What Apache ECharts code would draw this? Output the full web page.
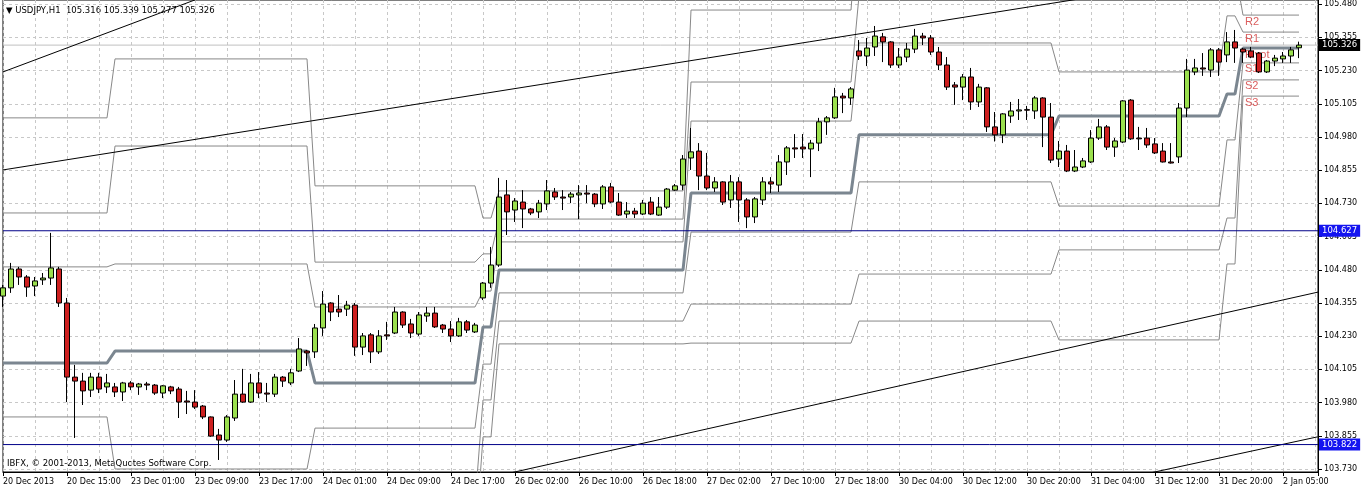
<!DOCTYPE html>
<html><head><meta charset="utf-8">
<script src="https://cdn.jsdelivr.net/npm/echarts@6/dist/echarts.min.js"></script>
<style>html,body{margin:0;padding:0;background:#fff}#c{width:1362px;height:490px}</style>
</head><body><div id="c"></div>
<script>
const timeLabels = ['20 Dec 2013','20 Dec 15:00','23 Dec 01:00','23 Dec 09:00','23 Dec 17:00','24 Dec 01:00','24 Dec 09:00','24 Dec 17:00','26 Dec 02:00','26 Dec 10:00','26 Dec 18:00','27 Dec 02:00','27 Dec 10:00','27 Dec 18:00','30 Dec 04:00','30 Dec 12:00','30 Dec 20:00','31 Dec 04:00','31 Dec 12:00','31 Dec 20:00','2 Jan 05:00'];
const priceTicks = [103.730,103.855,103.980,104.105,104.230,104.355,104.480,104.605,104.730,104.855,104.980,105.105,105.230,105.355,105.480];
// [open, close, low, high]
const candles = [
[104.381,104.412,104.340,104.423],[104.412,104.483,104.393,104.506],[104.483,104.453,104.423,104.491],[104.453,104.415,104.378,104.460],
[104.419,104.438,104.381,104.453],[104.442,104.449,104.423,104.468],[104.449,104.487,104.423,104.619],[104.483,104.355,104.340,104.491],
[104.355,104.076,103.982,104.374],[104.076,104.061,103.847,104.122],[104.061,104.024,103.971,104.092],[104.027,104.076,104.001,104.092],
[104.076,104.031,104.016,104.092],[104.039,104.054,104.016,104.088],[104.039,104.020,104.001,104.054],[104.020,104.054,103.986,104.058],
[104.054,104.039,104.027,104.061],[104.039,104.050,104.009,104.054],[104.050,104.046,104.027,104.058],[104.046,104.016,104.009,104.050],
[104.016,104.043,103.997,104.046],[104.039,104.024,104.012,104.043],[104.031,103.982,103.922,104.039],[103.986,103.982,103.937,104.024],
[103.982,103.963,103.956,104.027],[103.967,103.926,103.918,103.971],[103.926,103.854,103.851,103.928],[103.858,103.839,103.764,103.881],
[103.839,103.926,103.832,103.933],[103.922,104.012,103.911,104.065],[104.012,103.982,103.979,104.107],[103.982,104.054,103.979,104.088],
[104.054,104.016,103.997,104.095],[104.016,104.012,103.982,104.054],[104.012,104.076,104.001,104.088],[104.076,104.061,104.039,104.080],
[104.054,104.092,104.046,104.107],[104.099,104.182,104.095,104.223],[104.174,104.167,104.118,104.178],[104.171,104.261,104.148,104.276],
[104.261,104.351,104.231,104.400],[104.355,104.321,104.287,104.358],[104.332,104.321,104.302,104.385],[104.332,104.347,104.306,104.363],
[104.347,104.189,104.156,104.355],[104.189,104.231,104.159,104.242],[104.235,104.171,104.129,104.242],[104.171,104.231,104.163,104.253],
[104.235,104.231,104.216,104.284],[104.242,104.321,104.238,104.340],[104.321,104.272,104.261,104.324],[104.276,104.242,104.223,104.295],
[104.238,104.310,104.231,104.321],[104.306,104.317,104.284,104.340],[104.317,104.265,104.261,104.340],[104.272,104.257,104.242,104.276],
[104.257,104.231,104.208,104.287],[104.231,104.284,104.227,104.299],[104.284,104.253,104.242,104.291],[104.246,104.272,104.242,104.280],
[104.374,104.430,104.366,104.434],[104.430,104.498,104.412,104.566],[104.498,104.754,104.491,104.826],[104.762,104.698,104.611,104.818],
[104.705,104.739,104.660,104.750],[104.735,104.709,104.637,104.780],[104.709,104.694,104.686,104.713],[104.698,104.731,104.675,104.743],
[104.728,104.777,104.705,104.818],[104.773,104.754,104.743,104.788],[104.754,104.750,104.705,104.780],[104.754,104.765,104.731,104.773],
[104.762,104.769,104.671,104.799],[104.769,104.765,104.731,104.799],[104.765,104.728,104.716,104.769],[104.728,104.792,104.709,104.799],
[104.792,104.735,104.731,104.807],[104.735,104.686,104.683,104.769],[104.690,104.701,104.675,104.735],[104.701,104.690,104.675,104.713],
[104.690,104.731,104.686,104.743],[104.735,104.690,104.686,104.754],[104.686,104.716,104.683,104.754],[104.716,104.784,104.709,104.788],
[104.780,104.796,104.777,104.803],[104.799,104.897,104.780,104.912],[104.901,104.924,104.856,105.014],[104.927,104.833,104.780,104.957],
[104.833,104.788,104.780,104.920],[104.788,104.811,104.773,104.829],[104.811,104.735,104.724,104.814],[104.743,104.811,104.713,104.837],
[104.811,104.743,104.660,104.829],[104.743,104.679,104.637,104.750],[104.679,104.747,104.656,104.754],[104.743,104.811,104.724,104.829],
[104.811,104.803,104.769,104.829],[104.799,104.886,104.773,104.912],[104.886,104.939,104.837,104.946],[104.939,104.935,104.901,104.991],
[104.942,104.935,104.901,104.991],[104.935,104.957,104.829,104.969],[104.957,105.037,104.927,105.052],[105.037,105.052,104.988,105.059],
[105.052,105.131,105.048,105.165],[105.134,105.127,105.070,105.146],[105.127,105.161,105.101,105.168],[105.304,105.285,105.270,105.345],
[105.285,105.315,105.247,105.353],[105.319,105.360,105.285,105.398],[105.357,105.338,105.262,105.372],[105.338,105.251,105.240,105.341],
[105.251,105.281,105.240,105.315],[105.281,105.311,105.262,105.334],[105.311,105.360,105.296,105.387],[105.360,105.353,105.326,105.372],
[105.353,105.300,105.289,105.364],[105.300,105.251,105.232,105.319],[105.251,105.168,105.157,105.281],[105.176,105.168,105.101,105.187],
[105.168,105.206,105.119,105.217],[105.206,105.112,105.082,105.240],[105.112,105.168,105.093,105.180],[105.165,105.018,104.999,105.168],
[105.018,104.988,104.963,105.074],[104.988,105.067,104.957,105.070],[105.059,105.078,105.033,105.112],[105.078,105.082,105.044,105.123],
[105.083,105.081,105.044,105.097],[105.078,105.127,105.048,105.134],[105.127,105.055,104.942,105.130],[105.055,104.893,104.882,105.108],
[104.897,104.927,104.867,104.965],[104.927,104.852,104.848,104.950],[104.852,104.867,104.848,104.931],[104.867,104.890,104.863,104.901],
[104.886,104.976,104.882,105.006],[104.976,105.018,104.969,105.048],[105.018,104.942,104.931,105.025],[104.942,104.965,104.905,104.976],
[104.961,105.116,104.957,105.119],[105.119,104.973,104.969,105.123],[104.976,104.973,104.931,105.018],[104.976,104.950,104.939,105.014],
[104.954,104.920,104.916,104.976],[104.927,104.886,104.884,104.957],[104.886,104.882,104.880,104.957],[104.905,105.089,104.882,105.108],
[105.089,105.232,105.055,105.274],[105.225,105.240,105.213,105.274],[105.240,105.236,105.210,105.296],[105.232,105.308,105.206,105.315],
[105.308,105.262,105.210,105.315],[105.289,105.338,105.262,105.375],[105.338,105.315,105.259,105.383],[105.311,105.300,105.259,105.315],
[105.304,105.281,105.277,105.319],[105.296,105.225,105.221,105.300],[105.225,105.266,105.221,105.270],[105.266,105.277,105.247,105.289],
[105.274,105.285,105.259,105.300],[105.285,105.308,105.259,105.319],[105.316,105.326,105.277,105.339]
];
// daily pivot levels: first bar index of each day, then levels per day
const dayStart = [0,14,39,60,62,86,107,132,153,155];
const pivotP  = [104.129,104.174,104.054,104.265,104.479,104.769,104.988,105.059,105.142,105.315];
const pivotR1 = [104.491,104.502,104.340,104.400,104.585,105.040,105.334,105.225,105.436,105.375];
const pivotR2 = [104.694,104.946,104.509,104.540,104.671,105.187,105.511,105.564,105.609,105.439];
const pivotR3 = [105.052,105.274,104.796,104.675,104.777,105.458,105.857,105.729,105.902,105.500];
const pivotS1 = [103.926,103.730,103.884,104.125,104.393,104.622,104.811,104.720,104.969,105.259];
const pivotS2 = [103.564,103.403,103.598,103.990,104.287,104.351,104.464,104.555,104.675,105.195];
const pivotS3 = [103.203,102.958,103.429,103.851,104.201,104.204,104.287,104.216,104.502,105.134];
// trend lines: [bar index, price] end points
const trendLines = [
  [[0,105.225],[30,105.564]],
  [[0,104.856],[140,105.526]],
  [[60,103.692],[166,104.407]],
  [[140,103.693],[166,103.862]]
];
const hLines = [104.627, 103.822];
const bidPrice = 105.326;
const ohlcText = ['105.316','105.339','105.277','105.326'];

const FONT = 'DejaVu Sans';
const X_MAX = 164.375;
function dayOf(i){ let d = 0; for (let k = 0; k < dayStart.length; k++) if (i >= dayStart[k]) d = k; return d; }
function levelSeries(arr, thick){
  return { type:'line', data: candles.map((c,i)=>[i, arr[dayOf(i)]]), symbol:'none', silent:true,
    lineStyle:{color: thick ? '#7B8690' : '#888888', width: thick ? 3 : 1}, z: thick ? 3 : 2 };
}
const series = [];
[pivotR3,pivotR2,pivotR1,pivotS1,pivotS2,pivotS3].forEach(a => series.push(levelSeries(a,false)));
series.push(levelSeries(pivotP,true));
trendLines.forEach(t => series.push({type:'line', data:t, symbol:'none', silent:true, lineStyle:{color:'#000', width:1}, z:4}));
// horizontal lines
series.push({type:'line', data:[[0,bidPrice],[X_MAX,bidPrice]], symbol:'none', silent:true, lineStyle:{color:'#C0C0C0', width:1}, z:1});
hLines.forEach(v => series.push({type:'line', data:[[0,v],[X_MAX,v]], symbol:'none', silent:true, lineStyle:{color:'#000088', width:1}, z:5}));
const last = dayStart.length - 1;
const lblX = dayStart[last] + 0.25;
series.push({type:'scatter', symbolSize:0, silent:true, z:3,
  data:[[lblX,pivotR2[last],'R2'],[lblX,pivotR1[last],'R1'],[lblX,pivotP[last],'Pivot'],[lblX,pivotS1[last],'S1'],[lblX,pivotS2[last],'S2'],[lblX,pivotS3[last],'S3']],
  label:{show:true, position:[0,1], align:'left', verticalAlign:'top', formatter:p=>p.data[2], color:'#D23434', fontFamily:'Liberation Sans', fontSize:11}
});
const NOLINE = {color:'rgba(0,0,0,0)', width:0};
series.push({type:'candlestick', z:6, barWidth:5,
  data: candles.map((c,i)=>[i,c[0],c[1],c[2],c[3]]), encode:{x:0, y:[1,2,3,4]},
  itemStyle:{color:'#9BE04E', color0:'#CD1F1F', borderColor:'#000', borderColor0:'#000', borderWidth:1},
  markLine:{silent:true, symbol:['none','none'], precision:3, animation:false,
    lineStyle:NOLINE,
    label:{show:true, position:'end', distance:1, color:'#fff', fontFamily:FONT, fontSize:8.5, padding:[2,3,1,3], formatter:p=>Number(p.value).toFixed(3)},
    data:[
      {yAxis:bidPrice, lineStyle:NOLINE, label:{backgroundColor:'#000'}},
      ...hLines.map(v=>({yAxis:v, lineStyle:NOLINE, label:{backgroundColor:'#1414F0'}}))
    ]}
});

const chart = echarts.init(document.getElementById('c'));
chart.setOption({
  animation:false,
  backgroundColor:'#fff',
  grid:{left:3, right:44, top:0, bottom:18, show:true, borderColor:'#000', borderWidth:1},
  xAxis:[
    {type:'value', min:0, max:X_MAX, interval:8, position:'bottom',
      axisLine:{show:true, onZero:false, lineStyle:{color:'#000'}},
      axisTick:{show:true, length:4, lineStyle:{color:'#000'}},
      axisLabel:{show:true, align:'left', margin:6, fontSize:8, fontFamily:FONT, color:'#000',
        formatter:v => (v % 8 === 0 && timeLabels[v/8]) ? timeLabels[v/8] : ''},
      splitLine:{show:false}},
    {type:'value', min:0, max:X_MAX, interval:4, position:'top',
      axisLine:{show:false, onZero:false}, axisTick:{show:false}, axisLabel:{show:false},
      splitLine:{show:true, lineStyle:{color:'#C8C8C8', type:[3,3], width:1}}}
  ],
  yAxis:{type:'value', position:'right', min:103.7187, max:105.4958, scale:true,
    axisLine:{show:true, onZero:false, lineStyle:{color:'#000'}},
    axisTick:{show:true, length:4, lineStyle:{color:'#000'}, customValues:priceTicks},
    axisLabel:{show:true, margin:6, fontSize:8, fontFamily:FONT, color:'#000', customValues:priceTicks, formatter:v=>v.toFixed(3)},
    splitLine:{show:true, lineStyle:{color:'#C8C8C8', type:[3,3], width:1}}},
  graphic:[
    {type:'text', left:6, top:6, style:{text:'\u25BC USDJPY,H1  ' + ohlcText.join(' '), font:'8.5px "DejaVu Sans"', fill:'#000'}},
    {type:'text', left:7, top:459, style:{text:'IBFX, \u00A9 2001-2013, MetaQuotes Software Corp.', font:'8.5px "DejaVu Sans"', fill:'#000'}}
  ],
  series: series
});
</script></body></html>
